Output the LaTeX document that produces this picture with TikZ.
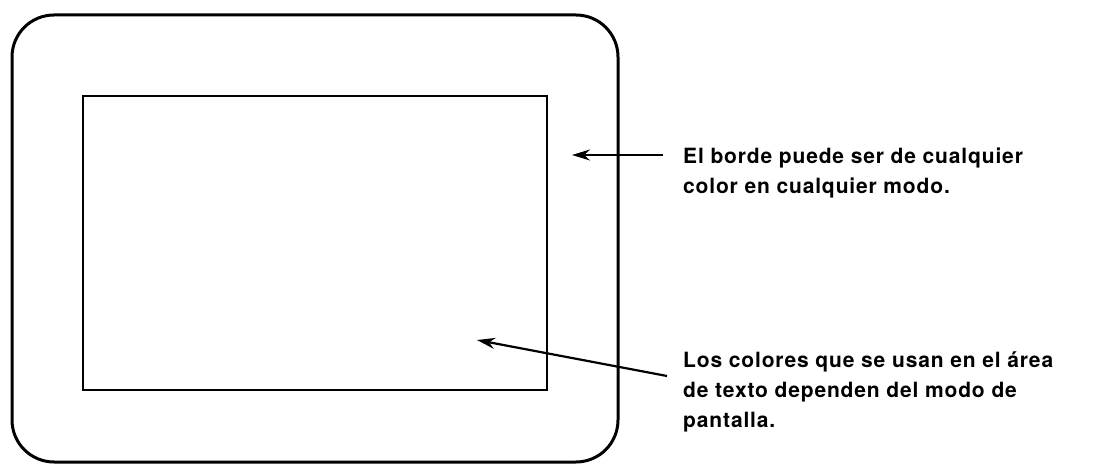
\documentclass[tikz,border=0pt]{standalone}
\usepackage{fontspec}
\setmainfont{TeX Gyre Heros}
\newfontfamily\notafont[LetterSpace=4]{TeX Gyre Heros}
\usetikzlibrary{arrows.meta}
\usetikzlibrary{calc,positioning}

\tikzset{
    nota/.style={anchor=north west, align=left, inner sep=0pt,
        font=\notafont\fontsize{21}{30}\selectfont\bfseries},
    flecha/.style={->, line width=2.2pt}
}

\begin{document}
\begin{tikzpicture}[>={Stealth[length=18pt,width=11pt]}, x=1pt, y=-1pt]

    \useasboundingbox (0,0) rectangle (1093,465);

    % pantalla y area de texto
    \draw[line width=3pt, rounded corners=42pt] (12,15) rectangle (618,462);
    \draw[line width=1.8pt] (83,96) rectangle (547,390);

    \node[nota] (borde) at (683,148) {El borde puede ser de cualquier\\color en cualquier modo.};
    \node[nota] (area) at (683,352) {Los colores que se usan en el \'area\\de texto dependen del modo de\\pantalla.};

    \coordinate (cola1) at (663,155);
    \coordinate (punta1) at (572,155);
    \coordinate (cola2) at (667,376);
    \coordinate (punta2) at (477,340);

    \draw[flecha] (cola1) -- (punta1);
    \draw[flecha] (cola2) -- (punta2);

\end{tikzpicture}
\end{document}
